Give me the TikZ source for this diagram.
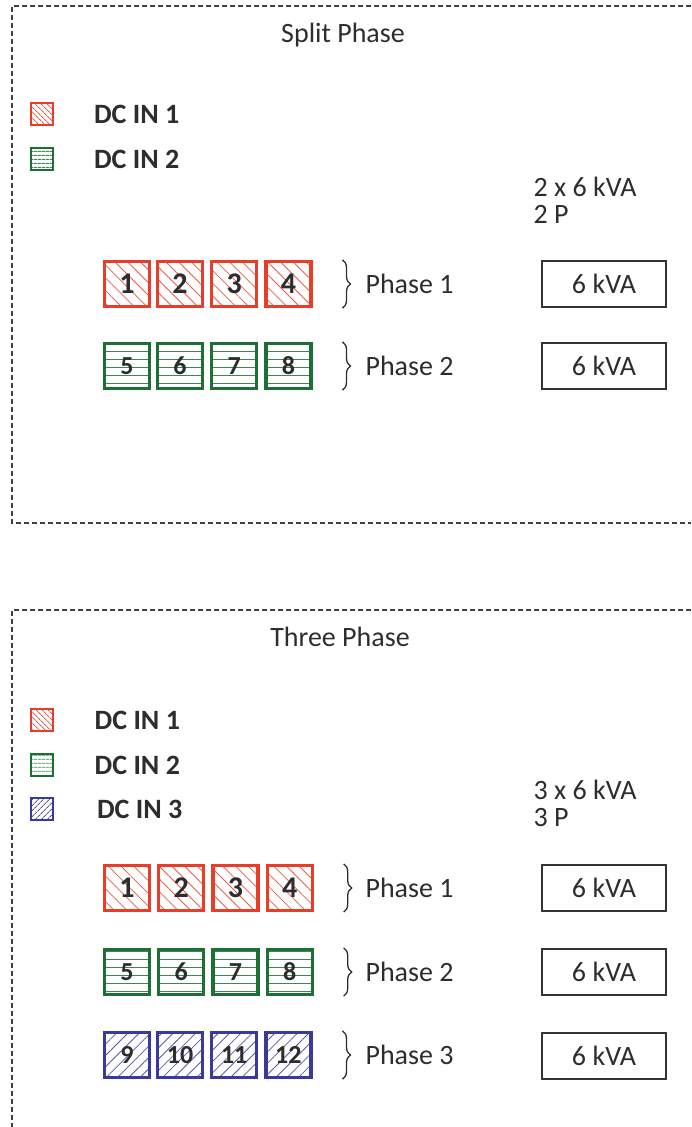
\documentclass[tikz,border=0pt]{standalone}
\usepackage{fontspec}
\setmainfont{Carlito}
\usetikzlibrary{positioning, patterns.meta, decorations.pathreplacing}

\definecolor{dcred}{RGB}{230,62,40}
\definecolor{dcgreen}{RGB}{28,112,52}
\definecolor{dcblue}{RGB}{58,58,156}
\definecolor{txtgray}{RGB}{45,45,45}

\begin{document}
\begin{tikzpicture}[x=1pt, y=-1pt,
    every node/.style={font=\fontsize{28}{27}\selectfont, text=txtgray},
    frame/.style={draw=black!75, line width=1.6pt, dash pattern=on 5pt off 3pt},
    cell/.style={draw, line width=3.2pt, minimum size=45pt, inner sep=0pt,
                 font=\fontsize{26}{26}\selectfont\bfseries},
    redcell/.style={cell, draw=dcred, font=\fontsize{30}{30}\selectfont\bfseries,
                    pattern={Lines[angle=-45, distance=9pt, line width=0.8pt]}, pattern color=dcred!85},
    greencell/.style={cell, draw=dcgreen,
                      pattern={Lines[angle=0, distance=8pt, line width=0.8pt]}, pattern color=dcgreen!85},
    bluecell/.style={cell, draw=dcblue,
                     pattern={Lines[angle=45, distance=8pt, line width=0.8pt]}, pattern color=dcblue!85},
    key/.style={line width=2.4pt, minimum size=22pt, inner sep=0pt},
    redkey/.style={key, draw=dcred, pattern={Lines[angle=-45, distance=4pt, line width=1pt]}, pattern color=dcred!85},
    greenkey/.style={key, draw=dcgreen, pattern={Lines[angle=0, distance=4pt, line width=1pt]}, pattern color=dcgreen!85},
    bluekey/.style={key, draw=dcblue, pattern={Lines[angle=45, distance=4pt, line width=1pt]}, pattern color=dcblue!85},
    keytext/.style={right=37pt of #1, font=\fontsize{28}{27}\selectfont\bfseries},
    kva/.style={draw=black!80, line width=1.4pt, minimum width=124pt, minimum height=46pt},
    phbrace/.style={decorate, decoration={brace, amplitude=8pt}, line width=1.3pt, draw=txtgray},
    node distance=6pt
  ]
    \useasboundingbox (0,0) rectangle (691,1127);

    % split phase
    \draw[frame] (691,6) -- (12,6) -- (12,523) -- (691,523);
    \node (split) at (343,35) {Split Phase};

    \node[redkey]   (sk1) at (42,114) {};
    \node[greenkey] (sk2) at (42,159) {};
    \node[keytext=sk1] (skt1) {DC IN 1};
    \node[keytext=sk2] (skt2) {DC IN 2};

    \node[anchor=west, align=left] (scap) at (530,200) {2 x 6 kVA\\2 P};

    \node[redcell] (s1) at (127,284) {1};
    \foreach \n [remember=\n as \p (initially 1)] in {2,3,4}
      \node[redcell, right=of s\p] (s\n) {\n};
    \node[greencell] (s5) at (127,366) {5};
    \foreach \n [remember=\n as \p (initially 5)] in {6,7,8}
      \node[greencell, right=of s\p] (s\n) {\n};

    \draw[phbrace] ([xshift=30pt]s4.north east) -- ([xshift=30pt]s4.south east);
    \draw[phbrace] ([xshift=30pt]s8.north east) -- ([xshift=30pt]s8.south east);
    \node[anchor=west] (sp1) at (362,284) {Phase 1};
    \node[anchor=west] (sp2) at (362,366) {Phase 2};

    \node[kva] (sv1) at (604,284) {6 kVA};
    \node[kva] (sv2) at (604,366) {6 kVA};

    % three phase
    \draw[frame] (691,610) -- (12,610) -- (12,1127);
    \node (three) at (340,637) {Three Phase};

    \node[redkey]   (tk1) at (42,720) {};
    \node[greenkey] (tk2) at (42,765) {};
    \node[bluekey]  (tk3) at (42,809) {};
    \node[keytext=tk1] (tkt1) {DC IN 1};
    \node[keytext=tk2] (tkt2) {DC IN 2};
    \node[keytext=tk3, xshift=3pt] (tkt3) {DC IN 3};

    \node[anchor=west, align=left] (tcap) at (530,803) {3 x 6 kVA\\3 P};

    \node[redcell] (t1) at (127,888) {1};
    \foreach \n [remember=\n as \p (initially 1)] in {2,3,4}
      \node[redcell, right=of t\p] (t\n) {\n};
    \node[greencell] (t5) at (127,972) {5};
    \foreach \n [remember=\n as \p (initially 5)] in {6,7,8}
      \node[greencell, right=of t\p] (t\n) {\n};
    \node[bluecell] (t9) at (127,1055) {9};
    \foreach \n [remember=\n as \p (initially 9)] in {10,11,12}
      \node[bluecell, right=of t\p] (t\n) {\n};

    \draw[phbrace] ([xshift=30pt]t4.north east) -- ([xshift=30pt]t4.south east);
    \draw[phbrace] ([xshift=30pt]t8.north east) -- ([xshift=30pt]t8.south east);
    \draw[phbrace] ([xshift=30pt]t12.north east) -- ([xshift=30pt]t12.south east);
    \node[anchor=west] (tp1) at (362,888) {Phase 1};
    \node[anchor=west] (tp2) at (362,972) {Phase 2};
    \node[anchor=west] (tp3) at (362,1055) {Phase 3};

    \node[kva] (tv1) at (604,888) {6 kVA};
    \node[kva] (tv2) at (604,972) {6 kVA};
    \node[kva] (tv3) at (604,1056) {6 kVA};
  \end{tikzpicture}
\end{document}
